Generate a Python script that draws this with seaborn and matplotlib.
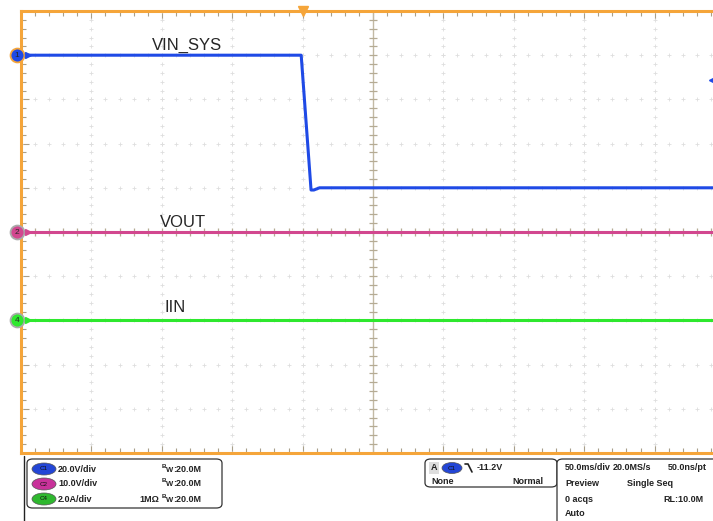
import numpy as np
import pandas as pd
import seaborn as sns
import matplotlib.pyplot as plt
from matplotlib.patches import FancyBboxPatch, Ellipse

# scope data (time in ms, trigger at 0)
vin_t = [-200, -1, 6, 8, 12, 300]
vin_v = [0, 0, -61, -61, -60, -60]
vout_t = [-200, 300]
vout_v = [0, 0]
iin_t = [-200, 300]
iin_a = [0, 0]

# channel settings: volts (or amps) per div, ground position in div
ch_scale = {"VIN_SYS": 20.0, "VOUT": 10.0, "IIN": 2.0}
ch_offset = {"VIN_SYS": 4, "VOUT": 0, "IIN": -2}
ch_color = {"VIN_SYS": "#1f4ae6", "VOUT": "#d2478f", "IIN": "#2ee82e"}
ch_num = {"VIN_SYS": "1", "VOUT": "2", "IIN": "4"}
label_t = {"VIN_SYS": -107, "VOUT": -101, "IIN": -98}
label_dy = {"VIN_SYS": 0.11, "VOUT": 0.11, "IIN": 0.2}
trig_level = -11.2

ORANGE = "#f5a53a"
W, H = 713, 521


def fx(px):
    return px / W


def fy(py):
    return 1 - py / H


frames = []
for name, t, v in [("VIN_SYS", vin_t, vin_v), ("VOUT", vout_t, vout_v), ("IIN", iin_t, iin_a)]:
    d = pd.DataFrame({"time": t, "value": v})
    d["div"] = d["value"] / ch_scale[name] + ch_offset[name]
    d["channel"] = name
    frames.append(d)
df = pd.concat(frames, ignore_index=True)

sns.set_style("white")
plt.rcParams["font.family"] = ["Liberation Sans", "DejaVu Sans"]

fig = plt.figure(figsize=(W / 100, H / 100), dpi=100)
ax = fig.add_axes([fx(21), fy(453), 704 / W, 442 / H])

xmin, xmax = -200, 300
ax.set_xlim(xmin, xmax)
ax.set_ylim(-5, 5)

# dotted graticule: dots at minor steps along each major line
major_x = np.arange(xmin, xmax + 1, 50)
minor_x = np.arange(xmin, xmax + 0.1, 10)
major_y = np.arange(-5, 6, 1)
minor_y = np.arange(-5, 5.01, 0.2)
gx, gy = np.meshgrid(minor_x, major_y[1:-1])
ax.scatter(gx.ravel(), gy.ravel(), marker="+", s=5, color="#dedede", linewidths=0.6, zorder=1)
gx, gy = np.meshgrid(major_x[1:-1], minor_y)
ax.scatter(gx.ravel(), gy.ravel(), marker="+", s=5, color="#dedede", linewidths=0.6, zorder=1)

# center crosshair with ticks
cx = 50
ax.axvline(cx, color="#c2b9a4", lw=1, zorder=1)
ax.axhline(0, color="#c2b9a4", lw=1, zorder=1)
ax.scatter(np.full(len(minor_y), cx), minor_y, marker="_", s=30, color="#b5ab94", linewidths=0.9, zorder=1)
ax.scatter(minor_x, np.zeros(len(minor_x)), marker="|", s=30, color="#b5ab94", linewidths=0.9, zorder=1)

# traces
for name in ["VIN_SYS", "VOUT", "IIN"]:
    sub = df[df["channel"] == name]
    sns.lineplot(data=sub, x="time", y="div", color=ch_color[name], lw=2.2,
                 ax=ax, legend=False, sort=False, estimator=None, zorder=3)
    ax.text(label_t[name], ch_offset[name] + label_dy[name], name, fontsize=12,
            ha="left", va="baseline")

# frame
for s in ["left", "top", "bottom"]:
    ax.spines[s].set_color(ORANGE)
    ax.spines[s].set_linewidth(2.2)
ax.spines["right"].set_visible(False)
ax.set_xticks(major_x)
ax.set_yticks(major_y)
ax.set_xticks(minor_x, minor=True)
ax.set_yticks(minor_y, minor=True)
ax.tick_params(which="both", direction="in", color="#a89f8a", labelleft=False,
               labelbottom=False, top=True, right=False, left=True, bottom=True)
ax.tick_params(which="major", length=6, width=0.8)
ax.tick_params(which="minor", length=3.5, width=0.8)
ax.set_xlabel("")
ax.set_ylabel("")

# channel ground markers on the left
ytr = ax.get_yaxis_transform()
for name in ["VIN_SYS", "VOUT", "IIN"]:
    y0 = ch_offset[name]
    edge = ORANGE if name == "VIN_SYS" else "#aaaaaa"
    ax.plot([-0.006], [y0], marker="o", ms=10, mfc=ch_color[name], mec=edge, mew=1.3,
            transform=ytr, clip_on=False, zorder=6)
    ax.text(-0.006, y0, ch_num[name], fontsize=6, ha="center", va="center",
            transform=ytr, clip_on=False, zorder=7)
    ax.plot([0.01], [y0], marker=">", ms=4, color=ch_color[name], transform=ytr,
            clip_on=False, zorder=6)

# trigger position and level markers
ax.plot([0], [1.0], marker="v", ms=7, color=ORANGE, transform=ax.get_xaxis_transform(),
        clip_on=False, zorder=6)
ax.plot([0.982], [trig_level / ch_scale["VIN_SYS"] + ch_offset["VIN_SYS"]], marker="<", ms=4,
        color=ch_color["VIN_SYS"], transform=ytr, clip_on=False, zorder=6)

# ---- bottom status panel ----
fig.add_artist(plt.Line2D([fx(24), fx(24)], [fy(456), 0], color="#222222", lw=1))


def box(x0, y0, x1, y1):
    fig.add_artist(FancyBboxPatch((fx(x0), fy(y1)), fx(x1) - fx(x0), fy(y0) - fy(y1),
                                  boxstyle="round,pad=0,rounding_size=0.008",
                                  fc="white", ec="#333333", lw=0.9, transform=fig.transFigure))


box(27, 459, 222, 508)
box(425, 459, 557, 487)
box(557, 459, 740, 540)

txt = dict(fontsize=6.5, fontweight="bold", va="center", color="#222222")
badges = [("C1", "#2346d6", 469, "20.0V/div", ""), ("C2", "#c8329a", 484, "10.0V/div", ""),
          ("C4", "#2fb82f", 499, "2.0A/div", "1M\u03a9")]
for lab, col, py, scale_txt, imp in badges:
    fig.add_artist(Ellipse((fx(44), fy(py)), fx(24), 12 / H, fc=col, ec="#555555", lw=0.5))
    fig.text(fx(44), fy(py), lab, fontsize=4.5, ha="center", va="center", color="#111111")
    fig.text(fx(58), fy(py), scale_txt, **txt)
    if imp:
        fig.text(fx(139), fy(py), imp, **txt)
    fig.text(fx(162), fy(py - 3), "B", fontsize=4.5, fontweight="bold", va="center", color="#222222")
    fig.text(fx(166), fy(py + 1), "W", fontsize=5.5, fontweight="bold", va="center", color="#222222")
    fig.text(fx(173), fy(py), ":20.0M", **txt)

fig.add_artist(FancyBboxPatch((fx(429), fy(474)), fx(10), 12 / H, boxstyle="square,pad=0",
                              fc="#dddddd", ec="none", transform=fig.transFigure))
fig.text(fx(434), fy(468), "A", ha="center", **txt)
fig.add_artist(Ellipse((fx(452), fy(468)), fx(20), 11 / H, fc="#2346d6", ec="#555555", lw=0.5))
fig.text(fx(452), fy(468), "C1", fontsize=4.5, ha="center", va="center", color="#111111")
fig.add_artist(plt.Line2D([fx(465), fx(468), fx(472)], [fy(464), fy(464), fy(472)],
                          color="#222222", lw=1.2))
fig.text(fx(477), fy(468), "-11.2V", **txt)
fig.text(fx(431), fy(481), "None", **txt)
fig.text(fx(512), fy(481), "Normal", **txt)

fig.text(fx(565), fy(468), "50.0ms/div", **txt)
fig.text(fx(613), fy(468), "20.0MS/s", **txt)
fig.text(fx(668), fy(468), "50.0ns/pt", **txt)
fig.text(fx(565), fy(484), "Preview", **txt)
fig.text(fx(627), fy(484), "Single Seq", **txt)
fig.text(fx(565), fy(500), "0 acqs", **txt)
fig.text(fx(663), fy(500), "RL:10.0M", **txt)
fig.text(fx(565), fy(514), "Auto", **txt)

fig.savefig("out.png", dpi=100)
plt.close(fig)
